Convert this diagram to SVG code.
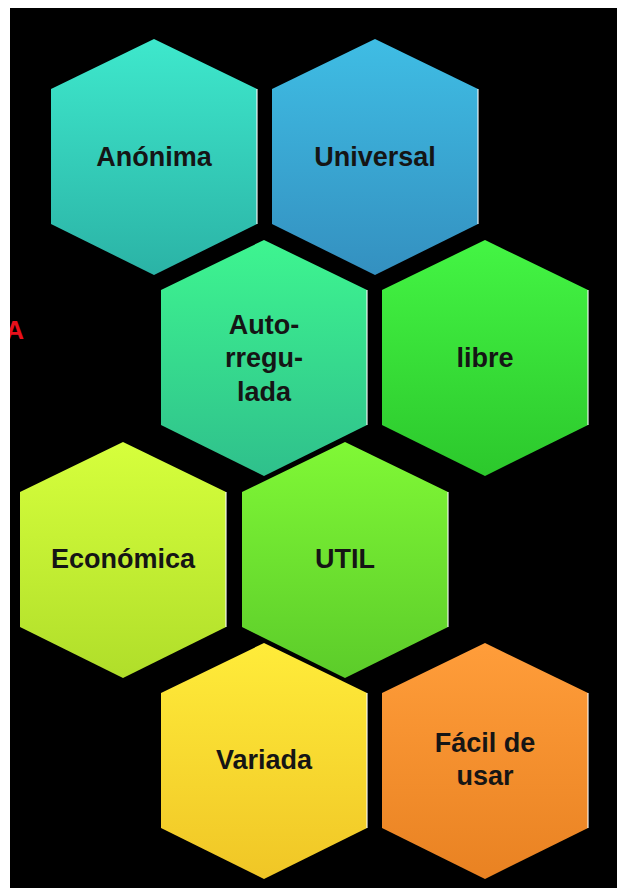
<svg xmlns="http://www.w3.org/2000/svg" width="617" height="892" viewBox="0 0 617 892">
<defs>
<style>
.lbl{font-family:"Liberation Sans",Arial,sans-serif;font-weight:bold;font-size:27px;fill:#151515;text-anchor:middle}
.hl{stroke:#ffffff;stroke-opacity:0.55;stroke-width:2;fill:none}
</style>
<linearGradient id="gAn" x1="0" y1="0" x2="0" y2="1"><stop offset="0" stop-color="#3ee8cc"/><stop offset="1" stop-color="#2bb3a6"/></linearGradient>
<linearGradient id="gUn" x1="0" y1="0" x2="0" y2="1"><stop offset="0" stop-color="#3fbde4"/><stop offset="1" stop-color="#3490c0"/></linearGradient>
<linearGradient id="gAu" x1="0" y1="0" x2="0" y2="1"><stop offset="0" stop-color="#3ef590"/><stop offset="1" stop-color="#2fc08c"/></linearGradient>
<linearGradient id="gLi" x1="0" y1="0" x2="0" y2="1"><stop offset="0" stop-color="#44f544"/><stop offset="1" stop-color="#2cc82c"/></linearGradient>
<linearGradient id="gEc" x1="0" y1="0" x2="0" y2="1"><stop offset="0" stop-color="#d6ff3c"/><stop offset="1" stop-color="#b0de2a"/></linearGradient>
<linearGradient id="gUt" x1="0" y1="0" x2="0" y2="1"><stop offset="0" stop-color="#80f836"/><stop offset="1" stop-color="#5ccc2a"/></linearGradient>
<linearGradient id="gVa" x1="0" y1="0" x2="0" y2="1"><stop offset="0" stop-color="#ffec3a"/><stop offset="1" stop-color="#f0c626"/></linearGradient>
<linearGradient id="gFa" x1="0" y1="0" x2="0" y2="1"><stop offset="0" stop-color="#ff9d3a"/><stop offset="1" stop-color="#e98222"/></linearGradient>
<path id="hex" d="M0,-118 L103,-68 L103,67 L0,118 L-103,67 L-103,-68 Z"/>
</defs>
<rect x="0" y="0" width="617" height="892" fill="#ffffff"/>
<rect x="10" y="8" width="607" height="880" fill="#000000"/>
<g id="connectors"/>
<g id="anonima" transform="translate(154,157)">
<use href="#hex" fill="url(#gAn)"/>
<line class="hl" x1="103" y1="-68" x2="103" y2="67"/>
<text class="lbl" x="0" y="9">Anónima</text>
</g>
<g id="universal" transform="translate(375,157)">
<use href="#hex" fill="url(#gUn)"/>
<line class="hl" x1="103" y1="-68" x2="103" y2="67"/>
<text class="lbl" x="0" y="9">Universal</text>
</g>
<g id="autorregulada" transform="translate(264,358)">
<use href="#hex" fill="url(#gAu)"/>
<line class="hl" x1="103" y1="-68" x2="103" y2="67"/>
<text class="lbl" x="0" y="-24">Auto-</text>
<text class="lbl" x="0" y="9">rregu-</text>
<text class="lbl" x="0" y="43">lada</text>
</g>
<g id="libre" transform="translate(485,358)">
<use href="#hex" fill="url(#gLi)"/>
<line class="hl" x1="103" y1="-68" x2="103" y2="67"/>
<text class="lbl" x="0" y="9">libre</text>
</g>
<g id="economica" transform="translate(123,560)">
<use href="#hex" fill="url(#gEc)"/>
<line class="hl" x1="103" y1="-68" x2="103" y2="67"/>
<text class="lbl" x="0" y="8">Económica</text>
</g>
<g id="util" transform="translate(345,560)">
<use href="#hex" fill="url(#gUt)"/>
<line class="hl" x1="103" y1="-68" x2="103" y2="67"/>
<text class="lbl" x="0" y="8">UTIL</text>
</g>
<g id="variada" transform="translate(264,761)">
<use href="#hex" fill="url(#gVa)"/>
<line class="hl" x1="103" y1="-68" x2="103" y2="67"/>
<text class="lbl" x="0" y="8">Variada</text>
</g>
<g id="facil" transform="translate(485,761)">
<use href="#hex" fill="url(#gFa)"/>
<line class="hl" x1="103" y1="-68" x2="103" y2="67"/>
<text class="lbl" x="0" y="-9">Fácil de</text>
<text class="lbl" x="0" y="24">usar</text>
</g>
<text x="24" y="339" font-family="'Liberation Sans',Arial,sans-serif" font-weight="bold" font-size="26" fill="#e8101c" text-anchor="end">A</text>
<rect x="0" y="0" width="10" height="892" fill="#ffffff"/>
</svg>
